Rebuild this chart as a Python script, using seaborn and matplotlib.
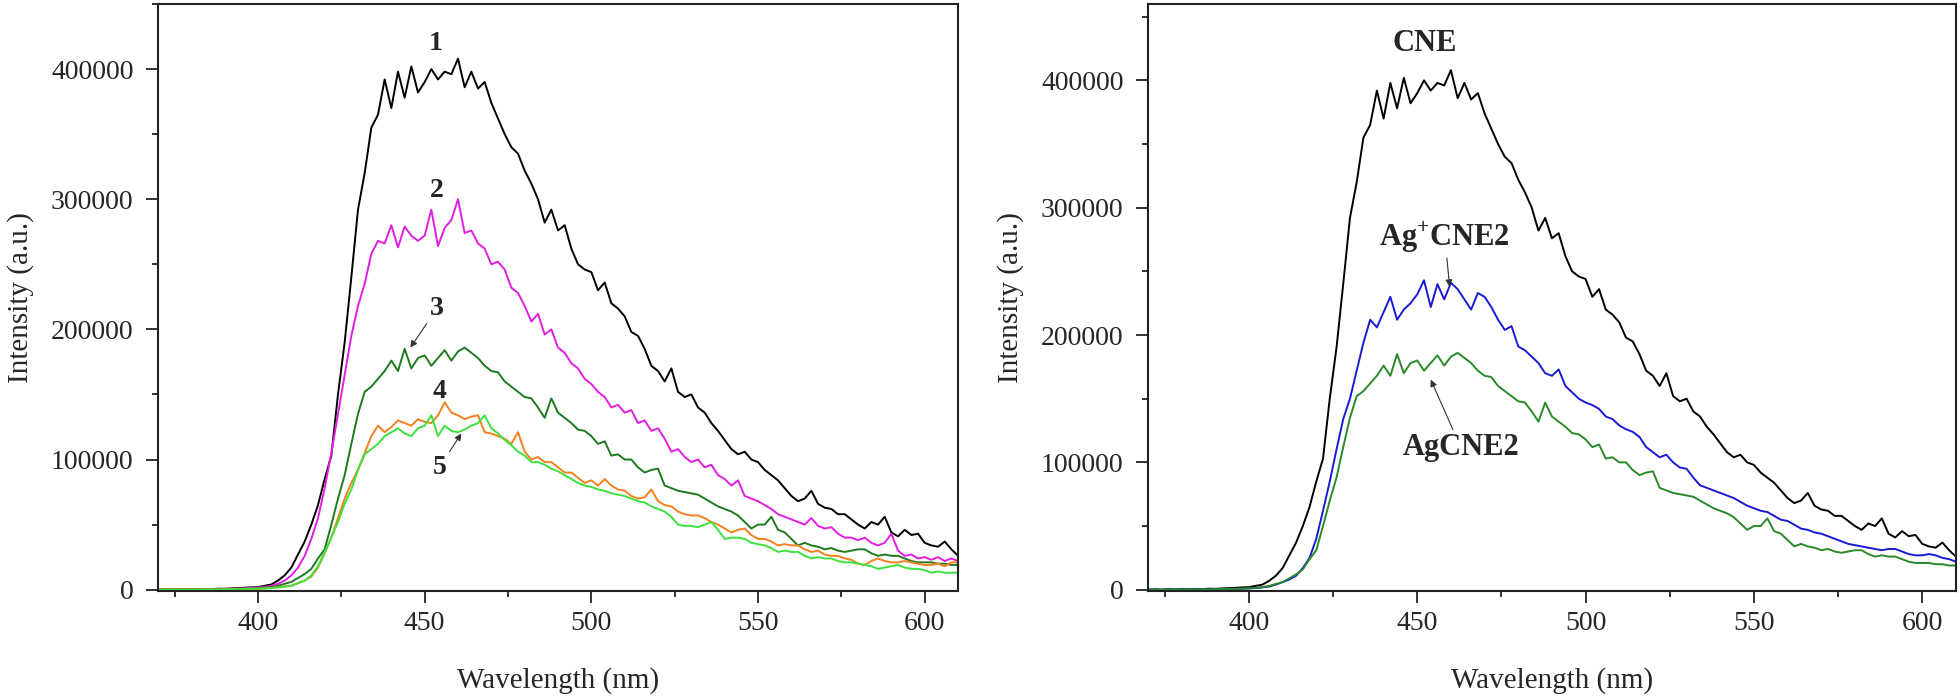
import numpy as np
import pandas as pd
import matplotlib.pyplot as plt
import seaborn as sns
from matplotlib.ticker import MultipleLocator

# wavelength grid (nm), every 2 nm from 370 to 610
wavelength = np.arange(370, 611, 2)

# intensities, in thousands (a.u.)
curve1 = [0.0, 0.3, 0.0, 0.4, 0.2, 0.5, 0.3, 0.6, 0.4, 0.8, 0.7, 1.0, 1.2, 1.5, 1.8,
          2, 3, 4, 7, 11, 17, 27, 37, 50, 65,
          85, 103, 150, 190, 240, 292, 320, 355, 365, 392,
          370, 398, 378, 402, 382, 390, 400, 392, 398, 396,
          408, 386, 398, 385, 390, 374, 362, 350, 340, 335,
          322, 312, 300, 282, 292, 276, 280, 262, 250, 246,
          244, 230, 236, 220, 216, 210, 198, 195, 185, 172,
          168, 160, 170, 152, 148, 150, 140, 136, 128, 122,
          115, 108, 104, 106, 100, 98, 92, 88, 84, 78,
          72, 68, 70, 76, 66, 63, 62, 58, 58, 54,
          50, 47, 52, 50, 56, 44, 41, 46, 42, 43,
          36, 34, 33, 37, 31, 26]

curve2 = [0.0, 0.2, 0.0, 0.3, 0.1, 0.3, 0.2, 0.4, 0.3, 0.5, 0.6, 0.7, 0.9, 1.1, 1.4,
          1.7, 2, 3, 4.5, 7, 11, 17, 26, 39, 55,
          78, 105, 135, 165, 195, 218, 235, 258, 268, 266,
          280, 263, 279, 272, 268, 272, 292, 264, 278, 284,
          300, 274, 276, 266, 262, 250, 252, 246, 232, 228,
          218, 206, 212, 196, 200, 186, 182, 174, 170, 162,
          158, 152, 148, 140, 142, 136, 138, 128, 130, 122,
          124, 116, 106, 108, 102, 98, 100, 94, 96, 88,
          85, 80, 84, 72, 70, 68, 65, 62, 58, 56,
          54, 52, 50, 55, 49, 47, 48, 43, 40, 40,
          38, 40, 36, 34, 36, 43, 30, 26, 27, 24,
          25, 23, 25, 22, 24, 22]

curve3 = [0.0, 0.1, 0.0, 0.2, 0.1, 0.2, 0.1, 0.3, 0.2, 0.3, 0.4, 0.5, 0.6, 0.7, 0.9,
          1.1, 1.5, 2, 3, 4.5, 6, 9, 12, 16, 24,
          31, 50, 70, 88, 112, 135, 152, 156, 162, 168,
          176, 168, 185, 170, 178, 180, 172, 178, 184, 176,
          183, 186, 182, 178, 172, 168, 167, 160, 156, 152,
          148, 147, 140, 132, 147, 136, 132, 128, 123, 122,
          118, 112, 114, 103, 104, 100, 100, 94, 90, 92,
          93, 80, 78, 76, 75, 74, 73, 70, 67, 64,
          62, 60, 57, 52, 47, 50, 50, 56, 46, 44,
          39, 34, 36, 34, 33, 31, 32, 30, 29, 30,
          31, 31, 28, 26, 27, 26, 26, 24, 22, 21,
          21, 21, 20, 20, 19, 19]

curve4 = [0.0, 0.1, 0.0, 0.1, 0.1, 0.2, 0.1, 0.2, 0.2, 0.3, 0.3, 0.4, 0.5, 0.6, 0.7,
          0.8, 1, 1.4, 2, 2.5, 3, 5, 7, 10, 17,
          28, 40, 55, 70, 82, 92, 105, 118, 126, 121,
          125, 130, 128, 126, 131, 129, 128, 134, 144, 136,
          134, 131, 133, 134, 121, 120, 118, 116, 112, 121,
          106, 100, 102, 98, 98, 94, 90, 90, 86, 82,
          84, 80, 85, 80, 77, 76, 72, 70, 71, 77,
          68, 65, 64, 60, 58, 57, 57, 55, 52, 50,
          47, 44, 46, 47, 42, 39, 39, 37, 34, 35,
          34, 34, 31, 29, 30, 27, 26, 26, 24, 23,
          20, 19, 22, 24, 22, 21, 21, 22, 21, 20,
          19, 19, 20, 18, 21, 21]

curve5 = [0.0, 0.1, 0.0, 0.1, 0.0, 0.1, 0.1, 0.2, 0.1, 0.2, 0.3, 0.3, 0.4, 0.5, 0.6,
          0.7, 0.9, 1.2, 1.8, 2.3, 3, 5, 7, 11, 18,
          29, 40, 52, 66, 77, 92, 104, 108, 112, 118,
          121, 124, 120, 118, 124, 126, 134, 118, 126, 122,
          121, 123, 126, 128, 134, 124, 120, 115, 111, 106,
          103, 98, 98, 96, 93, 91, 88, 85, 82, 80,
          79, 77, 76, 74, 73, 72, 70, 68, 67, 64,
          62, 60, 56, 50, 49, 49, 48, 50, 52, 46,
          39, 40, 40, 39, 36, 35, 34, 32, 29, 30,
          29, 29, 26, 24, 25, 24, 24, 22, 21, 21,
          20, 19, 18, 16, 17, 18, 19, 17, 16, 16,
          15, 13, 14, 13, 13, 13]

ag_plus_cne2 = [0.0, 0.1, 0.0, 0.2, 0.1, 0.2, 0.1, 0.3, 0.2, 0.3, 0.3, 0.4, 0.5, 0.6, 0.8,
                1, 1.3, 1.8, 2.5, 4, 6, 8, 11, 17, 25,
                40, 62, 85, 110, 134, 150, 172, 194, 212, 206,
                218, 230, 212, 220, 225, 232, 243, 222, 240, 228,
                241, 236, 228, 220, 233, 230, 222, 212, 204, 207,
                191, 188, 183, 178, 170, 168, 173, 160, 155, 150,
                147, 145, 142, 136, 134, 129, 126, 124, 120, 112,
                108, 104, 106, 100, 96, 95, 88, 82, 80, 78,
                76, 74, 72, 69, 66, 64, 62, 61, 58, 55,
                54, 51, 48, 47, 45, 44, 42, 40, 38, 36,
                35, 34, 33, 32, 31, 32, 32, 30, 28, 27,
                27, 28, 27, 25, 24, 22]

left_series = [("1", curve1, "black"), ("2", curve2, "#e21ee2"),
               ("3", curve3, "#1f7a1f"), ("4", curve4, "#f5801e"),
               ("5", curve5, "#3ee23e")]
right_series = [("CNE", curve1, "black"), ("Ag+CNE2", ag_plus_cne2, "#1a1ad6"),
                ("AgCNE2", curve3, "#2a8a2a")]

sns.set_style("ticks")
plt.rcParams['font.family'] = ['Liberation Serif', 'DejaVu Serif']
plt.rcParams['mathtext.fontset'] = 'custom'
plt.rcParams['mathtext.rm'] = 'Liberation Serif'
plt.rcParams['mathtext.bf'] = 'Liberation Serif:bold'

fig = plt.figure(figsize=(19.6, 6.97), dpi=100)
ax1 = fig.add_axes([0.0806, 0.1521, 0.4082, 0.8422])
ax2 = fig.add_axes([0.5857, 0.1521, 0.4122, 0.8422])


def style_axis(ax, ytop):
    ax.set_xlim(370, 610)
    ax.set_ylim(-1000, ytop)
    ax.xaxis.set_major_locator(MultipleLocator(50))
    ax.xaxis.set_minor_locator(MultipleLocator(25))
    ax.yaxis.set_major_locator(MultipleLocator(100000))
    ax.yaxis.set_minor_locator(MultipleLocator(50000))
    ax.tick_params(which='major', direction='out', length=8.5, width=1.3,
                   labelsize=20, color='#222222')
    ax.tick_params(which='minor', direction='out', length=4.5, width=1.3,
                   color='#222222')
    ax.tick_params(axis='x', pad=6)
    ax.tick_params(axis='y', pad=9)
    for sp in ax.spines.values():
        sp.set_visible(True)
        sp.set_linewidth(1.5)
        sp.set_color('#222222')
    ax.set_xlabel("Wavelength (nm)", fontsize=21, labelpad=22)
    ax.set_ylabel("Intensity (a.u.)", fontsize=21, labelpad=12)


for name, vals, col in left_series:
    sns.lineplot(x=wavelength, y=np.array(vals) * 1000, color=col,
                 linewidth=1.4, errorbar=None, ax=ax1)
for name, vals, col in right_series:
    sns.lineplot(x=wavelength, y=np.array(vals) * 1000, color=col,
                 linewidth=1.4, errorbar=None, ax=ax2)

style_axis(ax1, 450000)
style_axis(ax2, 460000)

num = dict(fontsize=20, fontweight='bold', ha='center', va='center')
lab = dict(fontsize=22, fontweight='bold', ha='center', va='center')
arr = dict(arrowstyle='-|>', color='#333333', lw=0.8, mutation_scale=10,
           shrinkA=0, shrinkB=0)

ax1.text(453.2, 420000, "1", **num)
ax1.text(453.7, 307000, "2", **num)
ax1.annotate("3", xy=(445.7, 186000), xytext=(453.7, 216000), arrowprops=arr, **num)
ax1.text(454.4, 152000, "4", **num)
ax1.annotate("5", xy=(461.0, 120000), xytext=(454.4, 94000), arrowprops=arr, **num)

ax2.text(452.2, 429000, "CNE", **lab)
ax2.annotate(r"Ag$^{\mathbf{+}}$CNE2", xy=(459.6, 238000), xytext=(458.2, 277000),
             arrowprops=arr, **lab)
ax2.annotate("AgCNE2", xy=(454.0, 165000), xytext=(462.9, 112000),
             arrowprops=arr, **lab)

fig.savefig("out.png", dpi=100)
